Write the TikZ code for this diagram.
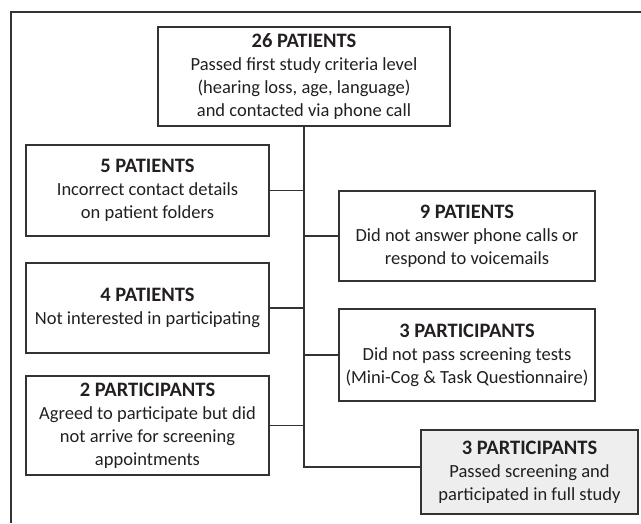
\documentclass[tikz,border=0pt]{standalone}
\usepackage{fontspec}
\setmainfont{Carlito}
\definecolor{ink}{HTML}{231F20}
\definecolor{linec}{HTML}{333333}
\definecolor{shade}{HTML}{EEEEEE}
\begin{document}
\begin{tikzpicture}[x=1pt,y=-1pt,
  box/.style={draw=linec,line width=1.4pt,inner sep=0pt,align=center,text=ink,
    font=\fontsize{18.5}{23}\selectfont},
  conn/.style={draw=linec,line width=1.4pt},
  frame/.style={draw=linec,line width=1.4pt}]
\useasboundingbox (0,0) rectangle (641,523);
\newcommand{\ttl}[1]{{\fontsize{20.5}{23}\selectfont\bfseries #1}}
\draw[frame] (11,523) -- (11,12) -- (641,12);
\node[box,minimum width=292pt,minimum height=99pt] (top) at (304,76.5)
  {\ttl{26 PATIENTS}\\Passed first study criteria level\\(hearing loss, age, language)\\and contacted via phone call};
\node[box,minimum width=243pt,minimum height=91pt] (p5) at (147.5,190.5)
  {\ttl{5 PATIENTS}\\Incorrect contact details\\on patient folders};
\node[box,minimum width=256pt,minimum height=90pt] (p9) at (467,236)
  {\ttl{9 PATIENTS}\\Did not answer phone calls or\\respond to voicemails};
\node[box,minimum width=243pt,minimum height=90pt] (p4) at (147.5,308)
  {\ttl{4 PATIENTS}\\Not interested in participating};
\node[box,minimum width=256pt,minimum height=92pt] (p3a) at (467,355)
  {\ttl{3 PARTICIPANTS}\\Did not pass screening tests\\(Mini-Cog \& Task Questionnaire)};
\node[box,minimum width=243pt,minimum height=99pt] (p2) at (147.5,425.5)
  {\ttl{2 PARTICIPANTS}\\Agreed to participate but did\\not arrive for screening\\appointments};
\node[box,fill=shade,minimum width=217pt,minimum height=84pt] (p3b) at (529.5,472)
  {\ttl{3 PARTICIPANTS}\\Passed screening and\\participated in full study};
\coordinate (end) at ([yshift=5pt]p3b.west);
\draw[conn] (top.south) |- (end);
\draw[conn] (p5.east) -- (p5.east -| top.south);
\draw[conn] (p9.west) -- (p9.west -| top.south);
\draw[conn] (p4.east) -- (p4.east -| top.south);
\draw[conn] (p3a.west) -- (p3a.west -| top.south);
\draw[conn] (p2.east) -- (p2.east -| top.south);
\end{tikzpicture}
\end{document}
